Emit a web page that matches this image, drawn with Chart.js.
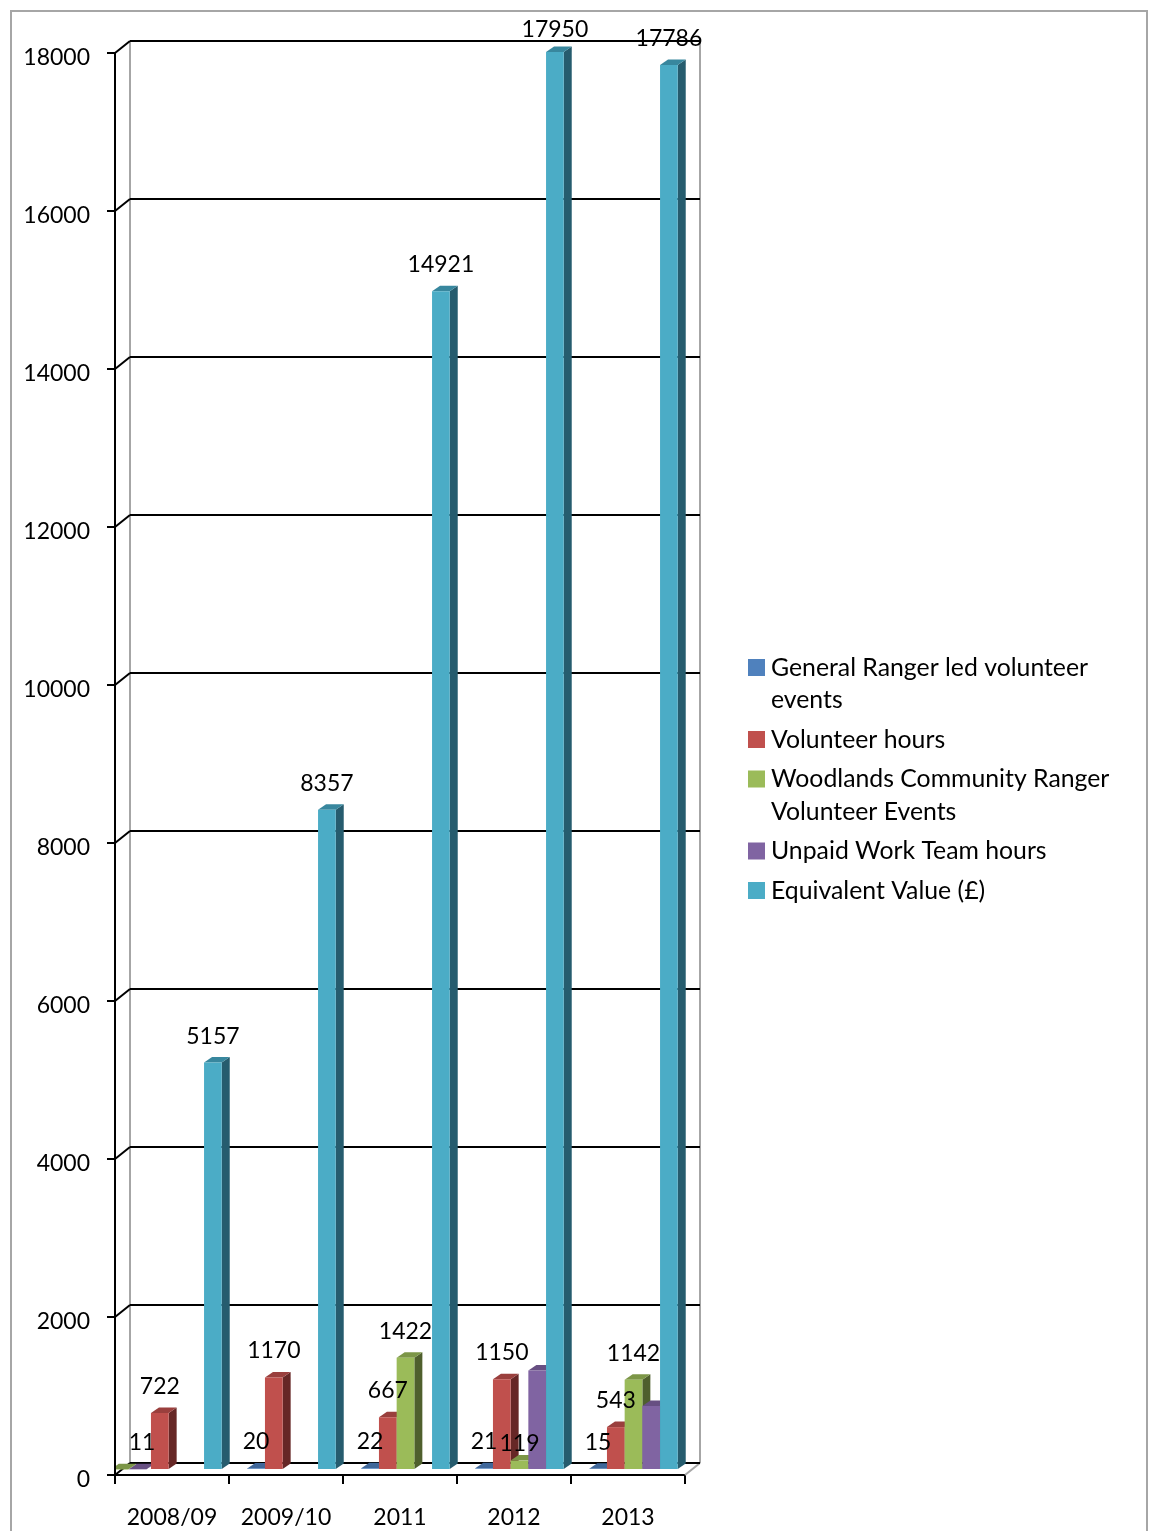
<!DOCTYPE html>
<html>
<head>
<meta charset="utf-8">
<style>
    html, body { margin: 0; padding: 0; background: #fff; overflow: hidden; }
    canvas { display: block; }
</style>
<script src="https://cdn.jsdelivr.net/npm/chart.js@4"></script>
</head>
<body>
<canvas id="rangerChart" width="1149" height="1531"></canvas>
<script>
const years = ['2008/09', '2009/10', '2011', '2012', '2013'];

const generalRanger = [11, 20, 22, 21, 15];
const volunteerHours = [722, 1170, 667, 1150, 543];
const woodlands = [8, null, 1422, 119, 1142];
const unpaidWork = [null, null, null, 1260, 810];
const equivalentValue = [5157, 8357, 14921, 17950, 17786];

const seriesNames = [
    'General Ranger led volunteer events',
    'Volunteer hours',
    'Woodlands Community Ranger Volunteer Events',
    'Unpaid Work Team hours',
    'Equivalent Value (£)'
];
const legendLines = [
    ['General Ranger led volunteer', 'events'],
    ['Volunteer hours'],
    ['Woodlands Community Ranger', 'Volunteer Events'],
    ['Unpaid Work Team hours'],
    ['Equivalent Value (£)']
];
const frontColors = ['#4F81BD', '#C0504D', '#9BBB59', '#8064A2', '#4BACC6'];
const sideColors = ['#284160', '#662726', '#4F5F2D', '#413351', '#265C6E'];
const topColors = ['#3F679A', '#9A3F3D', '#7C9647', '#674F82', '#38879E'];
const labelled = [true, true, true, false, true];

const FONT = '23px Lato';
const LEGEND_FONT = '24.8px Lato';
const WALL = { x: 15, y: -12 };      // back wall offset from the axes
const PLANE = { x: 5.5, y: -5 };     // where bars stand on the floor
const DEPTH = { x: 8, y: -5.5 };     // bar depth

function strokeLine(ctx, x1, y1, x2, y2, color) {
    ctx.strokeStyle = color;
    ctx.lineWidth = 2;
    ctx.beginPath();
    ctx.moveTo(x1, y1);
    ctx.lineTo(x2, y2);
    ctx.stroke();
}

function fillPoly(ctx, color, pts) {
    ctx.fillStyle = color;
    ctx.beginPath();
    pts.forEach((p, i) => (i ? ctx.lineTo(p[0], p[1]) : ctx.moveTo(p[0], p[1])));
    ctx.closePath();
    ctx.fill();
}

const bars3d = {
    id: 'bars3d',
    // 2008/09: the two flat bars sit left of their slots in the original
    afterDatasetsUpdate(chart) {
        const blue = chart.getDatasetMeta(0).data[0];
        const green = chart.getDatasetMeta(2).data[0];
        const startX = blue.x;
        blue.x = startX - 4.5;
        green.x = startX - 22.5;
    },
    beforeDraw(chart) {
        const ctx = chart.ctx;
        ctx.save();
        ctx.strokeStyle = '#A6A6A6';
        ctx.lineWidth = 2;
        ctx.strokeRect(11, 11, 1136, 1600);
        ctx.restore();
    },
    beforeDatasetsDraw(chart) {
        const ctx = chart.ctx;
        const { left, right } = chart.chartArea;
        const y = chart.scales.y;

        // Walls
        const backTop = y.getPixelForValue(18000) + WALL.y;
        const backBottom = y.getPixelForValue(0) + WALL.y;
        ctx.save();
        strokeLine(ctx, left + WALL.x, backTop, left + WALL.x, backBottom, '#A6A6A6');
        strokeLine(ctx, right + WALL.x, backTop, right + WALL.x, backBottom, '#A6A6A6');
        strokeLine(ctx, right, y.getPixelForValue(0), right + WALL.x, backBottom, '#A6A6A6');
        y.ticks.forEach(t => {
            const py = y.getPixelForValue(t.value);
            strokeLine(ctx, left, py, left + WALL.x, py + WALL.y, '#000');
            strokeLine(ctx, left + WALL.x, py + WALL.y, right + WALL.x, py + WALL.y, '#000');
        });

        // Bars, blue first so later series cover the side of earlier ones
        ctx.beginPath();
        ctx.rect(left + 1, 0, 1000, chart.height);
        ctx.clip();
        ctx.translate(PLANE.x, PLANE.y);
        chart.data.datasets.forEach((ds, i) => {
            const meta = chart.getDatasetMeta(i);
            meta.data.forEach((el, j) => {
                if (ds.data[j] == null) return;
                const l = el.x - el.width / 2;
                const r = el.x + el.width / 2;
                const tone = (i === 0 && j === 0) ? 3 : i;
                fillPoly(ctx, sideColors[tone], [[r, el.y], [r + DEPTH.x, el.y + DEPTH.y],
                    [r + DEPTH.x, el.base + DEPTH.y], [r, el.base]]);
                fillPoly(ctx, topColors[tone], [[l, el.y], [l + DEPTH.x, el.y + DEPTH.y],
                    [r + DEPTH.x, el.y + DEPTH.y], [r, el.y]]);
            });
            meta.controller.draw();
        });
        ctx.restore();
    },
    beforeDatasetDraw() {
        return false; // drawn above, in series order
    },
    afterDatasetsDraw(chart) {
        const ctx = chart.ctx;
        ctx.save();
        ctx.font = FONT;
        ctx.fillStyle = '#000';
        ctx.textAlign = 'center';
        ctx.textBaseline = 'middle';
        chart.data.datasets.forEach((ds, i) => {
            if (!labelled[i]) return;
            chart.getDatasetMeta(i).data.forEach((el, j) => {
                const v = ds.data[j];
                if (v == null || (i === 2 && j === 0)) return;
                let px = el.x + PLANE.x;
                let py = el.y + PLANE.y - 26.5;
                if (i === 0 && j === 0) px += 4.5;
                if (i === 2 && j === 3) py += 9; // 119 sits level with its neighbour
                if (i === 4 && j === 3) py += 4; // 17950 is pushed down by the plot top
                ctx.fillText(String(v), px, py);
            });
        });

        // Legend
        ctx.font = LEGEND_FONT;
        ctx.textAlign = 'left';
        let rowY = 668;
        legendLines.forEach((lines, i) => {
            ctx.fillStyle = frontColors[i];
            ctx.fillRect(748, rowY - 9, 17, 17);
            ctx.fillStyle = '#000';
            lines.forEach(line => {
                ctx.fillText(line, 771, rowY);
                rowY += 32.5;
            });
            rowY += 7;
        });
        ctx.restore();
    }
};

const datasets = [generalRanger, volunteerHours, woodlands, unpaidWork, equivalentValue].map((values, i) => ({
    label: seriesNames[i],
    data: values,
    backgroundColor: ctx => (i === 0 && ctx.dataIndex === 0) ? frontColors[3] : frontColors[i],
    borderWidth: 0,
    barPercentage: 1,
    categoryPercentage: 0.776,
    clip: false
}));

new Chart(document.getElementById('rangerChart'), {
    type: 'bar',
    data: { labels: years, datasets: datasets },
    plugins: [bars3d],
    options: {
        responsive: false,
        animation: false,
        layout: { padding: { left: 0, top: 53, right: 464, bottom: 0 } },
        plugins: { legend: { display: false }, tooltip: { enabled: false } },
        scales: {
            x: {
                afterFit: scale => { scale.height = 56; },
                border: { color: '#000', width: 2 },
                grid: { offset: true, drawOnChartArea: false, color: '#000', lineWidth: 2, tickLength: 9 },
                ticks: { color: '#000', font: { family: 'Lato', size: 23 }, padding: 20, maxRotation: 0 }
            },
            y: {
                min: 0,
                max: 18000,
                afterFit: scale => { scale.width = 115; },
                border: { color: '#000', width: 2 },
                grid: { drawOnChartArea: false, color: '#000', lineWidth: 2, tickLength: 8 },
                ticks: {
                    stepSize: 2000,
                    color: '#000',
                    font: { family: 'Lato', size: 23 },
                    padding: 17,
                    labelOffset: 5,
                    callback: v => String(v)
                }
            }
        }
    }
});
</script>
</body>
</html>
